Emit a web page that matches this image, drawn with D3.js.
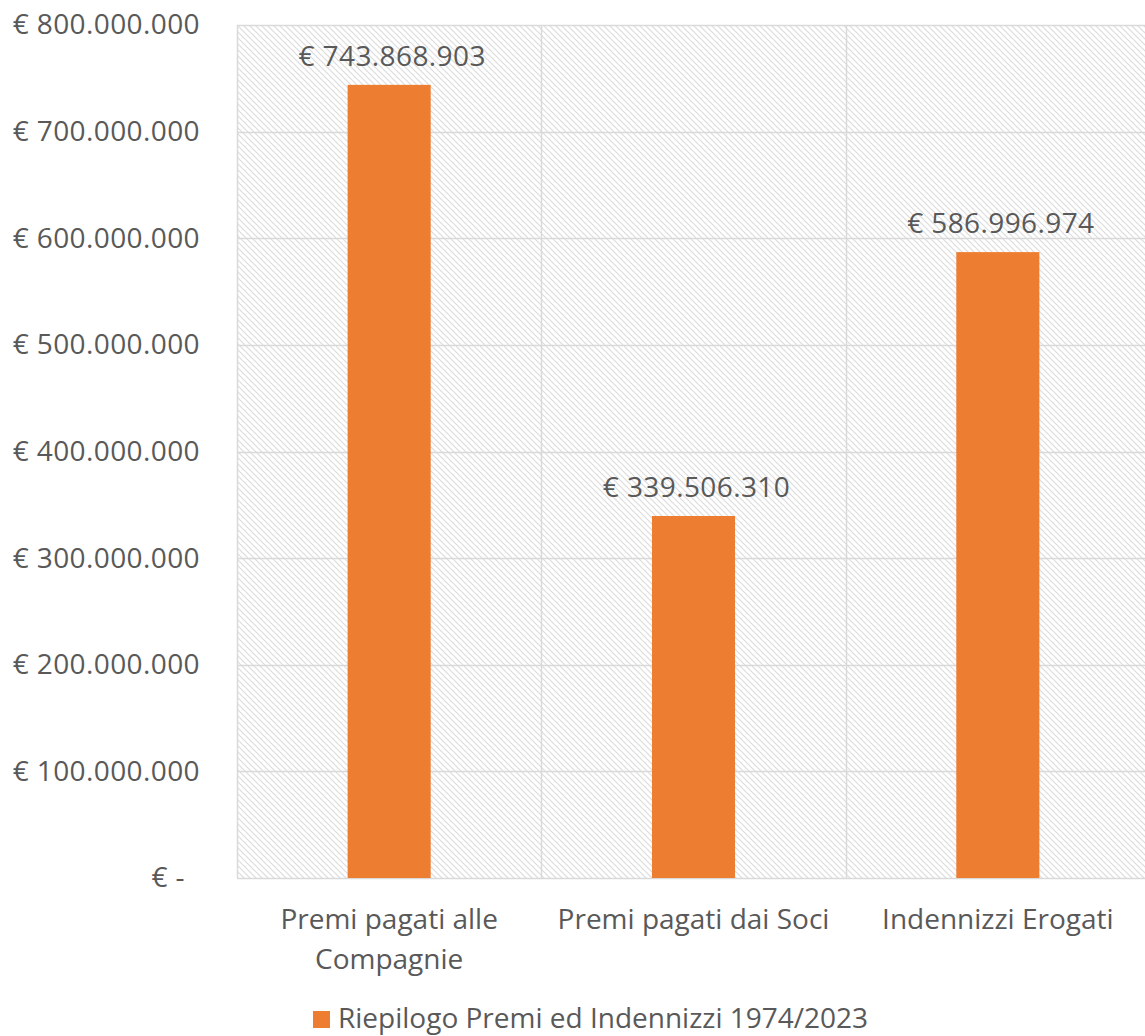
<!DOCTYPE html>
<html>
<head>
<meta charset="utf-8">
<script src="https://cdn.jsdelivr.net/npm/d3@7"></script>
<style>
  body { margin: 0; background: #fff; }
  #chart { width: 1145px; height: 1036px; overflow: hidden; }
  text { font-family: "Open Sans", "Noto Sans", sans-serif; fill: #595959; }
</style>
</head>
<body>
<div id="chart"></div>
<script>
var categories = ["Premi pagati alle Compagnie", "Premi pagati dai Soci", "Indennizzi Erogati"];
var categoryLines = [["Premi pagati alle", "Compagnie"], ["Premi pagati dai Soci"], ["Indennizzi Erogati"]];
var values = [743868903, 339506310, 586996974];
var yTicks = [0, 100000000, 200000000, 300000000, 400000000, 500000000, 600000000, 700000000, 800000000];
var seriesName = "Riepilogo Premi ed Indennizzi 1974/2023";

var svgWidth = 1145;
var svgHeight = 1036;

var margin = { top: 25, right: -5, bottom: 158, left: 237 };
var width = svgWidth - margin.left - margin.right;
var height = svgHeight - margin.top - margin.bottom;

var svg = d3.select("#chart")
  .append("svg")
  .attr("width", svgWidth)
  .attr("height", svgHeight);

// hatch pattern for the plot area
var defs = svg.append("defs");
var pat = defs.append("pattern")
  .attr("id", "hatch")
  .attr("patternUnits", "userSpaceOnUse")
  .attr("width", 6)
  .attr("height", 6);
pat.append("rect").attr("width", 6).attr("height", 6).attr("fill", "#fff");
pat.append("path")
  .attr("d", "M-1,-1 L7,7 M-7,-1 L1,7 M5,-1 L13,7")
  .attr("stroke", "#dcdcdc")
  .attr("stroke-width", 1.2);

var chartGroup = svg.append("g")
  .attr("transform", `translate(${margin.left}, ${margin.top})`);

var xScale = d3.scaleBand()
  .domain(categories)
  .range([0, width])
  .paddingInner(0)
  .paddingOuter(0);

var yScale = d3.scaleLinear()
  .domain([0, 800000000])
  .range([height, 0]);

chartGroup.append("rect")
  .attr("width", width)
  .attr("height", height)
  .attr("fill", "url(#hatch)");

// horizontal gridlines
chartGroup.selectAll(".hgrid")
  .data(yTicks)
  .enter()
  .append("line")
  .attr("class", "hgrid")
  .attr("x1", 0)
  .attr("x2", width)
  .attr("y1", d => Math.round(yScale(d)) + 0.5)
  .attr("y2", d => Math.round(yScale(d)) + 0.5)
  .attr("stroke", "#d9d9d9")
  .attr("stroke-width", 1.5);

// vertical gridlines at category boundaries
var vLines = [0].concat(categories.map(c => xScale(c) + xScale.bandwidth()));
chartGroup.selectAll(".vgrid")
  .data(vLines)
  .enter()
  .append("line")
  .attr("class", "vgrid")
  .attr("x1", d => Math.round(d) + 0.5)
  .attr("x2", d => Math.round(d) + 0.5)
  .attr("y1", 0)
  .attr("y2", height)
  .attr("stroke", "#d9d9d9")
  .attr("stroke-width", 1.5);

// bars
var barW = xScale.bandwidth() * 0.273;
chartGroup.selectAll(".bar")
  .data(values)
  .enter()
  .append("rect")
  .attr("class", "bar")
  .attr("x", (d, i) => xScale(categories[i]) + xScale.bandwidth() / 2 - barW / 2)
  .attr("y", d => yScale(d))
  .attr("width", barW)
  .attr("height", d => height - yScale(d))
  .attr("fill", "#ED7D31");

// data labels
var fmt = d3.formatLocale({ decimal: ",", thousands: ".", grouping: [3], currency: ["€ ", ""] });
var money = fmt.format("$,.0f");
chartGroup.selectAll(".dlabel")
  .data(values)
  .enter()
  .append("text")
  .attr("class", "dlabel")
  .attr("x", (d, i) => xScale(categories[i]) + xScale.bandwidth() / 2 + 3)
  .attr("y", d => yScale(d) - 19)
  .attr("text-anchor", "middle")
  .attr("font-size", 28)
  .attr("letter-spacing", 0.4)
  .text(d => money(d));

// y axis
var leftAxis = d3.axisLeft(yScale)
  .tickValues(yTicks)
  .tickSize(0)
  .tickPadding(37)
  .tickFormat(d => d === 0 ? "€ -" : money(d));
var yAxisG = chartGroup.append("g").call(leftAxis);
yAxisG.select(".domain").remove();
yAxisG.selectAll("text")
  .attr("font-size", 28)
  .attr("fill", "#595959")
  .attr("font-family", "Open Sans")
  .attr("letter-spacing", 0.4)
  .attr("dx", d => d === 0 ? -15 : 0);

// x axis category labels
var xLab = chartGroup.selectAll(".xlab")
  .data(categories)
  .enter()
  .append("text")
  .attr("class", "xlab")
  .attr("x", d => xScale(d) + xScale.bandwidth() / 2)
  .attr("y", height + 51)
  .attr("text-anchor", "middle")
  .attr("font-size", 28);
xLab.each(function(d, i) {
  var t = d3.select(this);
  categoryLines[i].forEach(function(line, j) {
    t.append("tspan")
      .attr("x", xScale(d) + xScale.bandwidth() / 2)
      .attr("dy", j === 0 ? 0 : 40)
      .text(line);
  });
});

// legend
var legend = svg.append("g")
  .attr("transform", "translate(313, 1011)");
legend.append("rect")
  .attr("width", 17)
  .attr("height", 17)
  .attr("fill", "#ED7D31");
legend.append("text")
  .attr("x", 25)
  .attr("y", 17)
  .attr("font-size", 28)
  .text(seriesName);
</script>
</body>
</html>
